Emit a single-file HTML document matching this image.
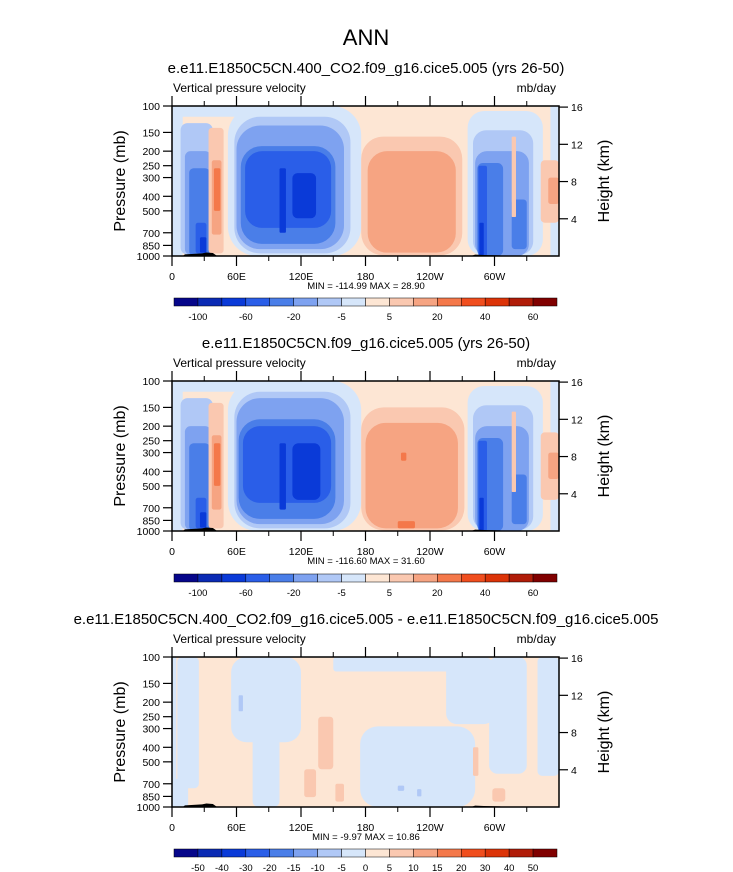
<!DOCTYPE html>
<html><head><meta charset="utf-8"><style>
body{margin:0;background:#fff;}
svg{display:block;font-family:"Liberation Sans",sans-serif;}
</style></head><body>
<svg id="fig" width="733" height="872" viewBox="0 0 733 872" xmlns="http://www.w3.org/2000/svg">
<text x="366" y="45" font-size="22" text-anchor="middle">ANN</text>
</svg>
<script>
// ---- data ----
const colors = ["#06068a","#0a2ab4","#0a3ad8","#2a5ee8","#4a7ee8","#7ea2f0","#b0c8f6","#d6e6fa","#fde6d4","#fac8b0","#f6a482","#f4784a","#f04e1e","#dc3408","#b01c08","#800000"];
const cbLabels1 = ["-100","","-60","","-20","","-5","","5","","20","","40","","60"];
const cbLabels3 = ["-50","-40","-30","-20","-15","-10","-5","0","5","10","15","20","30","40","50"];
const pTicks = [100,150,200,250,300,400,500,700,850,1000];
const hTicks = [16,12,8,4];
const lonLabels = ["0","60E","120E","180","120W","60W"];
const lonMajor = [0,60,120,180,240,300];
const lonMinor = [30,90,150,210,270,330];
const titles = ["e.e11.E1850C5CN.400_CO2.f09_g16.cice5.005 (yrs 26-50)","e.e11.E1850C5CN.f09_g16.cice5.005 (yrs 26-50)","e.e11.E1850C5CN.400_CO2.f09_g16.cice5.005 - e.e11.E1850C5CN.f09_g16.cice5.005"];
const minMax = ["MIN = -114.99  MAX =  28.90","MIN = -116.60  MAX =  31.60","MIN =  -9.97  MAX =  10.86"];
// blobs: [lon0, lon1, pTop, pBottom, colorIndex]
const blobs1 = [
 [0,10,100,1000,7],[0,80,100,118,7],[52,176,100,1000,7],[275,345,108,1000,7],[352,360,100,1000,7],
 [8,38,130,980,6],[58,166,118,960,6],[280,336,145,980,6],
 [12,36,200,980,5],[60,160,135,900,5],[282,332,200,1000,5],
 [16,35,260,1000,4],[64,152,185,830,4],[284,308,240,1000,4],[316,330,420,900,4],
 [68,148,200,650,3],[22,32,600,960,3],[285,293,250,1000,3],
 [100,106,260,700,2],[112,134,280,560,2],[26,32,750,950,2],[286,290,600,1000,2],
 [34,48,140,960,9],[37,46,230,720,10],[39,45,260,500,11],
 [176,270,160,990,9],[182,264,200,950,10],
 [343,360,230,600,9],[350,360,300,450,10],[316,320,160,550,9]
];
const blobs2 = [
 [0,10,100,1000,7],[0,80,100,118,7],[52,176,100,1000,7],[275,345,108,1000,7],[352,360,100,1000,7],
 [8,38,130,980,6],[58,166,118,960,6],[280,336,145,980,6],
 [12,36,200,980,5],[60,160,130,900,5],[282,332,200,1000,5],
 [16,35,260,1000,4],[62,152,180,830,4],[284,308,240,1000,4],[316,330,420,900,4],
 [66,148,200,650,3],[22,32,600,960,3],[285,293,250,1000,3],
 [100,106,260,720,2],[112,138,260,620,2],[26,32,750,950,2],[286,290,600,1000,2],
 [34,48,140,960,9],[37,46,230,720,10],[39,45,260,500,11],
 [176,272,150,990,9],[180,266,190,960,10],[210,226,860,960,11],[213,218,300,340,11],
 [343,360,220,620,9],[350,360,300,450,10],[316,320,160,550,9]
];
const blobs3 = [
 [0,4,100,1000,7],[5,25,100,750,7],[0,15,650,1000,7],[55,120,100,370,7],[75,100,100,1000,7],
 [175,282,290,1000,7],[150,275,100,125,7],[255,300,100,280,7],[295,330,100,600,7],[340,360,100,620,7],
 [136,150,250,560,9],[123,134,560,860,9],[152,160,700,920,9],[280,285,400,620,9],[298,310,750,920,9],
 [62,66,180,230,6],[210,216,720,780,6],[228,232,760,850,6]
];
const topo = [[10,1000],[12,975],[20,968],[28,960],[32,948],[38,955],[42,1000]];
const topo2 = [[278,1000],[282,980],[290,985],[305,990],[308,1000]];

const svg = document.getElementById('fig');
const NS = "http://www.w3.org/2000/svg";
const X0 = 172, W = 387, H = 150;
function mk(tag, attrs, parent){const e=document.createElementNS(NS,tag);for(const k in attrs)e.setAttribute(k,attrs[k]);(parent||svg).appendChild(e);return e;}
function xs(lon){return X0 + lon*W/360;}
function ysFor(top){return p => top + H*Math.log10(p/100);}

function panel(idx, top, blobs, title, mm, cbY, labs){
  const ys = ysFor(top);
  const g = mk('g',{});
  
  
  const t = mk('text',{x:366,y:top-33,'font-size':15,'text-anchor':'middle'},g); t.textContent=title;
   
  const v = mk('text',{x:X0+1,y:top-14,'font-size':12},g); v.textContent='Vertical pressure velocity';
   
  const u = mk('text',{x:X0+W-3,y:top-14,'font-size':12,'text-anchor':'end'},g); u.textContent='mb/day';
   
  const plot = mk('g',{},g);
   
  const bg = mk('rect',{x:X0,y:top,width:W,height:H,fill:colors[8]},plot);
   
  blobs.forEach(b=>{
    const x=xs(b[0]), w=xs(b[1])-x, y=ys(b[2]), h=ys(b[3])-y;
    const r=Math.min(w,h)*0.22;
    const e=mk('rect',{x:x,y:y,width:w,height:h,rx:r,ry:r,fill:colors[b[4]]},plot);
     
  });
  [topo,topo2].forEach(tp=>{
    const pts=tp.map(q=>xs(q[0])+','+ys(q[1])).join(' ');
    const e=mk('polygon',{points:pts,fill:'#000'},plot);
     
  });
  const fr=mk('rect',{x:X0,y:top,width:W,height:H,fill:'none',stroke:'#000','stroke-width':1.5},g);
   
  pTicks.forEach(p=>{
    const y=ys(p);
    mk('line',{x1:X0-9,x2:X0,y1:y,y2:y,stroke:'#000','stroke-width':1.2},g);
    const l=mk('text',{x:X0-12,y:y+4,'font-size':10.5,'text-anchor':'end'},g); l.textContent=p;
     
  });
  hTicks.forEach(hk=>{
    const p=1000*Math.exp(-hk/7); const y=ys(p);
    mk('line',{x1:X0+W,x2:X0+W+9,y1:y,y2:y,stroke:'#000','stroke-width':1.2},g);
    const l=mk('text',{x:X0+W+12,y:y+4,'font-size':10.5},g); l.textContent=hk;
     
  });
  lonMajor.forEach((lo,i)=>{
    const x=xs(lo);
    mk('line',{x1:x,x2:x,y1:top+H,y2:top+H+10,stroke:'#000','stroke-width':1.2},g);
    mk('line',{x1:x,x2:x,y1:top-10,y2:top,stroke:'#000','stroke-width':1.2},g);
    const l=mk('text',{x:x,y:top+H+24,'font-size':10.5,'text-anchor':'middle'},g); l.textContent=lonLabels[i];
     
  });
  lonMinor.forEach(lo=>{
    const x=xs(lo);
    mk('line',{x1:x,x2:x,y1:top+H,y2:top+H+5,stroke:'#000','stroke-width':1},g);
    mk('line',{x1:x,x2:x,y1:top-5,y2:top,stroke:'#000','stroke-width':1},g);
  });
  const yl=mk('text',{transform:`translate(125,${top+H/2}) rotate(-90)`,'font-size':16,'text-anchor':'middle'},g); yl.textContent='Pressure (mb)';
   
  const yr=mk('text',{transform:`translate(609,${top+H/2}) rotate(-90)`,'font-size':16,'text-anchor':'middle'},g); yr.textContent='Height (km)';
   
  const m=mk('text',{x:366,y:top+H+33,'font-size':9.5,'text-anchor':'middle'},g); m.textContent=mm;
   
  // colorbar
  const cb=mk('g',{},g);
   
  const cx0=174, cw=383/16;
  colors.forEach((c,i)=>{
    const r=mk('rect',{x:cx0+i*cw,y:cbY,width:cw,height:8,fill:c,stroke:'#000','stroke-width':0.5},cb);
     
  });
  labs.forEach((s,i)=>{
    if(!s) return;
    const l=mk('text',{x:cx0+(i+1)*cw,y:cbY+22,'font-size':9.5,'text-anchor':'middle'},cb); l.textContent=s;
     
  });
}
panel(0,106,blobs1,titles[0],minMax[0],298,cbLabels1);
panel(1,381,blobs2,titles[1],minMax[1],574,cbLabels1);
panel(2,657,blobs3,titles[2],minMax[2],849,cbLabels3);
</script>
</body></html>
